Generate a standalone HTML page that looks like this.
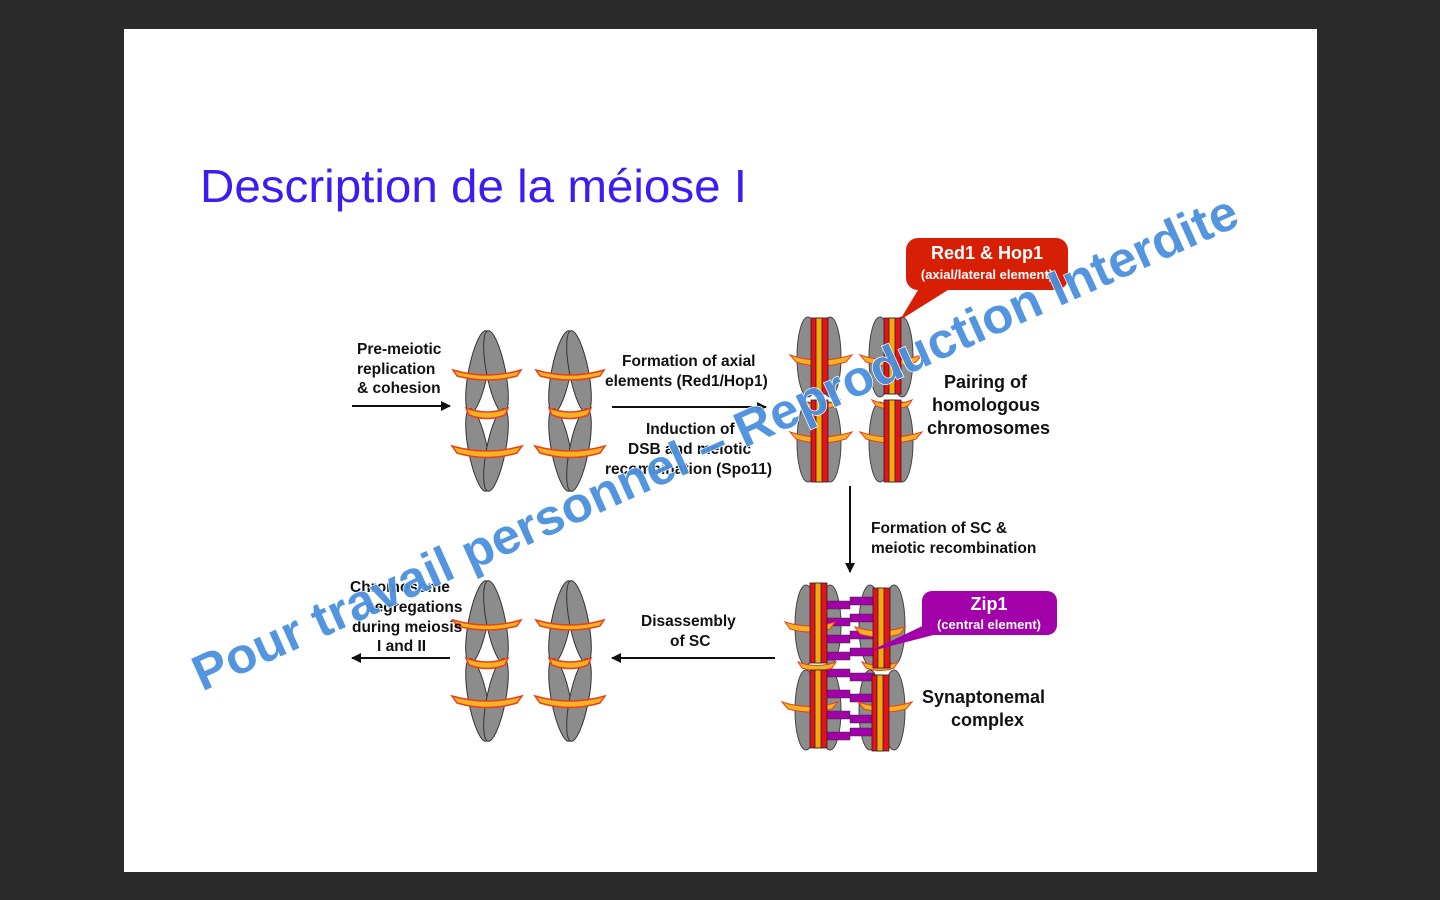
<!DOCTYPE html>
<html><head><meta charset="utf-8"><style>
html,body{margin:0;padding:0;background:#2b2b2b;}
svg{display:block;}
</style></head><body>
<svg width="1440" height="900" viewBox="0 0 1440 900" xmlns="http://www.w3.org/2000/svg" font-family="Liberation Sans, Arial, sans-serif">
<defs>
<g id="arm">
<ellipse cx="0" cy="0" rx="9.5" ry="42" fill="#8c8c8c" stroke="#333" stroke-width="1"/>
</g>
<g id="xchr">
<use href="#arm" transform="translate(-9,-38) rotate(11)"/>
<use href="#arm" transform="translate(9,-38) rotate(-11)"/>
<use href="#arm" transform="translate(-9,40) rotate(-11)"/>
<use href="#arm" transform="translate(9,40) rotate(11)"/>
<path d="M-34,-40 Q0,-30 34,-40 L30,-34 Q0,-26 -30,-34 Z" fill="#f5b324" stroke="#e8401a" stroke-width="1.5"/>
<path d="M-21,-2 Q0,6 21,-2 L18,5 Q0,12 -18,5 Z" fill="#f5b324" stroke="#e8401a" stroke-width="1.5"/>
<path d="M-35,36 Q0,46 35,36 L30,43 Q0,52 -30,43 Z" fill="#f5b324" stroke="#e8401a" stroke-width="1.5"/>
</g>
<marker id="ah" markerWidth="10" markerHeight="10" refX="9" refY="5" orient="auto" markerUnits="userSpaceOnUse"><path d="M0,0 L10,5 L0,10 Z" fill="#111"/></marker>
</defs>
<rect x="124" y="29" width="1193" height="843" fill="#fff"/>
<text x="200" y="202" font-size="46" fill="#3b1cf2" textLength="547" lengthAdjust="spacingAndGlyphs" font-family="Liberation Sans, sans-serif">Description de la méiose I</text>

<use href="#xchr" transform="translate(487,410)"/>
<use href="#xchr" transform="translate(570,410)"/>
<use href="#xchr" transform="translate(487,660)"/>
<use href="#xchr" transform="translate(570,660)"/>

<g font-weight="bold" font-size="15.5" fill="#111">
<text x="357" y="354">Pre-meiotic</text>
<text x="357" y="374">replication</text>
<text x="357" y="393">&amp; cohesion</text>
<text x="622" y="366">Formation of axial</text>
<text x="605" y="386">elements (Red1/Hop1)</text>
<text x="646" y="434">Induction of</text>
<text x="628" y="454">DSB and meiotic</text>
<text x="605" y="474">recombination (Spo11)</text>
<text x="944" y="388" font-size="18">Pairing of</text>
<text x="932" y="411" font-size="18">homologous</text>
<text x="927" y="434" font-size="18">chromosomes</text>
<text x="871" y="533">Formation of SC &amp;</text>
<text x="871" y="553">meiotic recombination</text>
<text x="641" y="626">Disassembly</text>
<text x="670" y="646">of SC</text>
<text x="350" y="592">Chromosome</text>
<text x="366" y="612">segregations</text>
<text x="352" y="632">during meiosis</text>
<text x="377" y="651">I and II</text>
<text x="922" y="703" font-size="18">Synaptonemal</text>
<text x="951" y="726" font-size="18">complex</text>
</g>

<g stroke="#111" stroke-width="2" fill="none">
<line x1="352" y1="406" x2="450" y2="406" marker-end="url(#ah)"/>
<line x1="612" y1="407" x2="766" y2="407" marker-end="url(#ah)"/>
<line x1="850" y1="486" x2="850" y2="572" marker-end="url(#ah)"/>
<line x1="775" y1="658" x2="612" y2="658" marker-end="url(#ah)"/>
<line x1="450" y1="658" x2="352" y2="658" marker-end="url(#ah)"/>
</g>

<g>
<g fill="#8c8c8c" stroke="#444" stroke-width="1">
<ellipse cx="808" cy="357" rx="11" ry="40"/><ellipse cx="830" cy="357" rx="11" ry="40"/>
<ellipse cx="808" cy="442" rx="11" ry="40"/><ellipse cx="830" cy="442" rx="11" ry="40"/>
<ellipse cx="880" cy="357" rx="11" ry="40"/><ellipse cx="902" cy="357" rx="11" ry="40"/>
<ellipse cx="880" cy="442" rx="11" ry="40"/><ellipse cx="902" cy="442" rx="11" ry="40"/>
</g>
<g fill="#f5b324" stroke="#e8401a" stroke-width="1">
<path d="M790,355 Q819,365 852,355 L846,362 Q819,370 796,362Z"/>
<path d="M860,355 Q891,365 922,355 L916,362 Q891,370 866,362Z"/>
<path d="M798,400 Q819,408 840,400 L836,406 Q819,412 802,406Z"/>
<path d="M872,400 Q891,408 912,400 L908,406 Q891,412 876,406Z"/>
<path d="M790,432 Q819,442 852,432 L846,439 Q819,447 796,439Z"/>
<path d="M860,432 Q891,442 922,432 L916,439 Q891,447 866,439Z"/>
</g>
<g stroke="#222" stroke-width="0.8">
<rect x="811" y="318" width="17" height="76" fill="#e8111a"/><rect x="816" y="318" width="6" height="76" fill="#f5a90e"/>
<rect x="811" y="400" width="17" height="82" fill="#e8111a"/><rect x="816" y="400" width="6" height="82" fill="#f5a90e"/>
<rect x="884" y="318" width="17" height="76" fill="#e8111a"/><rect x="889" y="318" width="6" height="76" fill="#f5a90e"/>
<rect x="884" y="400" width="17" height="82" fill="#e8111a"/><rect x="889" y="400" width="6" height="82" fill="#f5a90e"/>
</g>
</g>
<path d="M918,290 L900,320 L948,290Z" fill="#d61f05"/>
<rect x="906" y="238" width="162" height="52" rx="12" fill="#d61f05"/>
<text x="987" y="259" text-anchor="middle" font-size="18" font-weight="bold" fill="#fff">Red1 &amp; Hop1</text>
<text x="987" y="279" text-anchor="middle" font-size="13" font-weight="bold" fill="#fff">(axial/lateral element)</text>

<g>
<g fill="#8c8c8c" stroke="#444" stroke-width="1">
<ellipse cx="806" cy="625" rx="11" ry="40"/><ellipse cx="830" cy="625" rx="11" ry="40"/>
<ellipse cx="806" cy="710" rx="11" ry="40"/><ellipse cx="830" cy="710" rx="11" ry="40"/>
<ellipse cx="870" cy="625" rx="11" ry="40"/><ellipse cx="894" cy="625" rx="11" ry="40"/>
<ellipse cx="870" cy="710" rx="11" ry="40"/><ellipse cx="894" cy="710" rx="11" ry="40"/>
</g>
<g fill="#a200a8" stroke="#333" stroke-width="0.5">
<rect x="826" y="601" width="24" height="8"/><rect x="850" y="597" width="24" height="8"/>
<rect x="826" y="618" width="24" height="8"/><rect x="850" y="614" width="24" height="8"/>
<rect x="826" y="635" width="24" height="8"/><rect x="850" y="631" width="24" height="8"/>
<rect x="826" y="652" width="24" height="8"/><rect x="850" y="648" width="24" height="8"/>
<rect x="826" y="669" width="24" height="8"/><rect x="850" y="673" width="24" height="8"/>
<rect x="826" y="690" width="24" height="8"/><rect x="850" y="694" width="24" height="8"/>
<rect x="826" y="711" width="24" height="8"/><rect x="850" y="715" width="24" height="8"/>
<rect x="826" y="732" width="24" height="8"/><rect x="850" y="728" width="24" height="8"/>
</g>
<g fill="#f5b324" stroke="#e8401a" stroke-width="1">
<path d="M785,622 Q810,630 835,622 L830,629 Q810,635 790,629Z"/>
<path d="M855,627 Q880,635 905,627 L900,634 Q880,640 860,634Z"/>
<path d="M798,662 Q817,669 836,662 L832,668 Q817,673 802,668Z"/>
<path d="M862,662 Q880,669 898,662 L894,668 Q880,673 866,668Z"/>
<path d="M782,702 Q810,711 838,702 L832,709 Q810,715 788,709Z"/>
<path d="M858,702 Q885,711 912,702 L906,709 Q885,715 864,709Z"/>
</g>
<g stroke="#222" stroke-width="0.8">
<rect x="810" y="583" width="17" height="80" fill="#e8111a"/><rect x="815" y="583" width="6" height="80" fill="#f5a90e"/>
<rect x="810" y="670" width="17" height="78" fill="#e8111a"/><rect x="815" y="670" width="6" height="78" fill="#f5a90e"/>
<rect x="873" y="588" width="17" height="80" fill="#e8111a"/><rect x="878" y="588" width="6" height="80" fill="#f5a90e"/>
<rect x="872" y="675" width="17" height="76" fill="#e8111a"/><rect x="877" y="675" width="6" height="76" fill="#f5a90e"/>
</g>
</g>
<path d="M935,620 L868,652 L945,632Z" fill="#a200a8"/>
<rect x="922" y="591" width="135" height="44" rx="10" fill="#a200a8"/>
<text x="989" y="610" text-anchor="middle" font-size="18" font-weight="bold" fill="#fff">Zip1</text>
<text x="989" y="629" text-anchor="middle" font-size="13" font-weight="bold" fill="#fff">(central element)</text>

<text transform="translate(722,458) rotate(-24.2)" text-anchor="middle" font-size="50" font-weight="bold" fill="#4a90dd" stroke="#ffffff" stroke-width="1.5" paint-order="stroke" textLength="1140" lengthAdjust="spacingAndGlyphs" opacity="0.95">Pour travail personnel – Reproduction Interdite</text>
</svg>
</body></html>
